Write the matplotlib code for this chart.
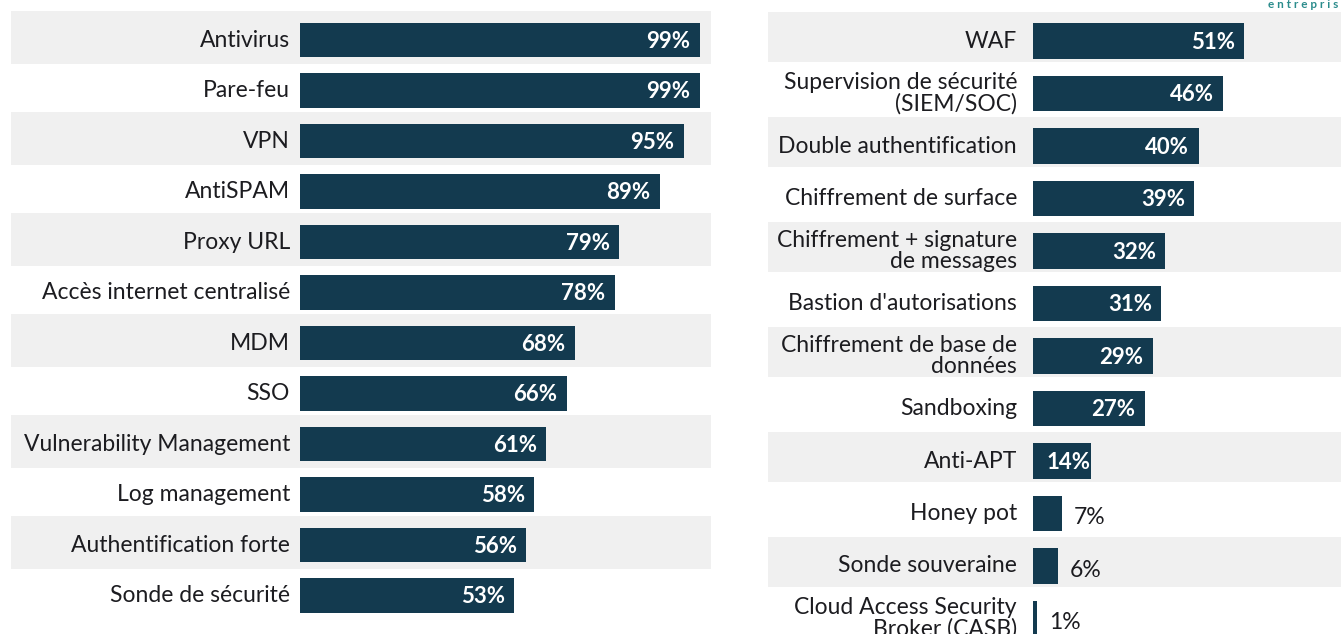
import matplotlib
matplotlib.use("Agg")
import matplotlib.pyplot as plt

plt.rcParams['font.family'] = ['Lato', 'DejaVu Sans']

left_labels = ["Antivirus", "Pare-feu", "VPN", "AntiSPAM", "Proxy URL",
               "Accès internet centralisé", "MDM", "SSO",
               "Vulnerability Management", "Log management",
               "Authentification forte", "Sonde de sécurité"]
left_values = [99, 99, 95, 89, 79, 78, 68, 66, 61, 58, 56, 53]

right_labels = ["WAF", "Supervision de sécurité\n(SIEM/SOC)",
                "Double authentification", "Chiffrement de surface",
                "Chiffrement + signature\nde messages",
                "Bastion d'autorisations",
                "Chiffrement de base de\ndonnées", "Sandboxing", "Anti-APT",
                "Honey pot", "Sonde souveraine",
                "Cloud Access Security\nBroker (CASB)"]
right_values = [51, 46, 40, 39, 32, 31, 29, 27, 14, 7, 6, 1]

BAR = "#133a4f"
BAND = "#f0f0f0"
TXT = "#1c1c20"

W, H = 1341, 634
fig = plt.figure(figsize=(W / 100, H / 100), dpi=100)
fig.patch.set_facecolor("white")


def panel(x0_px, x1_px, zero_px, px_per, y0_px, pitch, band_x0_px,
          band_x1_px, band_lo, band_hi, label_gap, labels, values, fs, vfs):
    ax = fig.add_axes([x0_px / W, 0, (x1_px - x0_px) / W, 1])
    ax.set_xlim((x0_px - zero_px) / px_per, (x1_px - zero_px) / px_per)
    ax.set_ylim((H - y0_px) / pitch, -y0_px / pitch)
    ax.axis("off")
    n = len(values)
    f0 = (band_x0_px - x0_px) / (x1_px - x0_px)
    f1 = (band_x1_px - x0_px) / (x1_px - x0_px)
    for i in range(0, n, 2):
        ax.axhspan(i - band_lo / pitch, i + band_hi / pitch, xmin=f0,
                   xmax=f1, color=BAND, lw=0, zorder=0)
    ys = list(range(n))
    ax.barh(ys, values, height=0.685, color=BAR, lw=0, zorder=2)
    lab_x = -label_gap / px_per
    for y, lab, v in zip(ys, labels, values):
        ax.text(lab_x, y, lab, ha="right", va="center", fontsize=fs,
                color=TXT, linespacing=1.0, zorder=3)
        if v >= 10:
            xv = max(v - 9.5 / px_per, 13.8)
            ax.text(xv, y + 0.02, f"{v}%", ha="right", va="center",
                    fontsize=vfs, color="white", fontweight="bold", zorder=3)
        else:
            ax.text(v + 12 / px_per, y + 0.08, f"{v}%", ha="left",
                    va="center", fontsize=fs, color=TXT, zorder=3)
    return ax


panel(0, 730, 300, 4.04, 40, 50.5, 11, 711, 29, 23.5, 10,
      left_labels, left_values, 16.5, 16)
panel(730, 1341, 1033, 4.14, 41, 52.5, 768, 1341, 29, 21, 16,
      right_labels, right_values, 16.5, 16)

fig.text(1 - 3 / W, 1 - 5 / H, "e n t r e p r i s", ha="right", va="center",
         fontsize=8.5, color="#2b8c8c", fontweight="bold")

fig.savefig("out.png", dpi=100, facecolor="white")
